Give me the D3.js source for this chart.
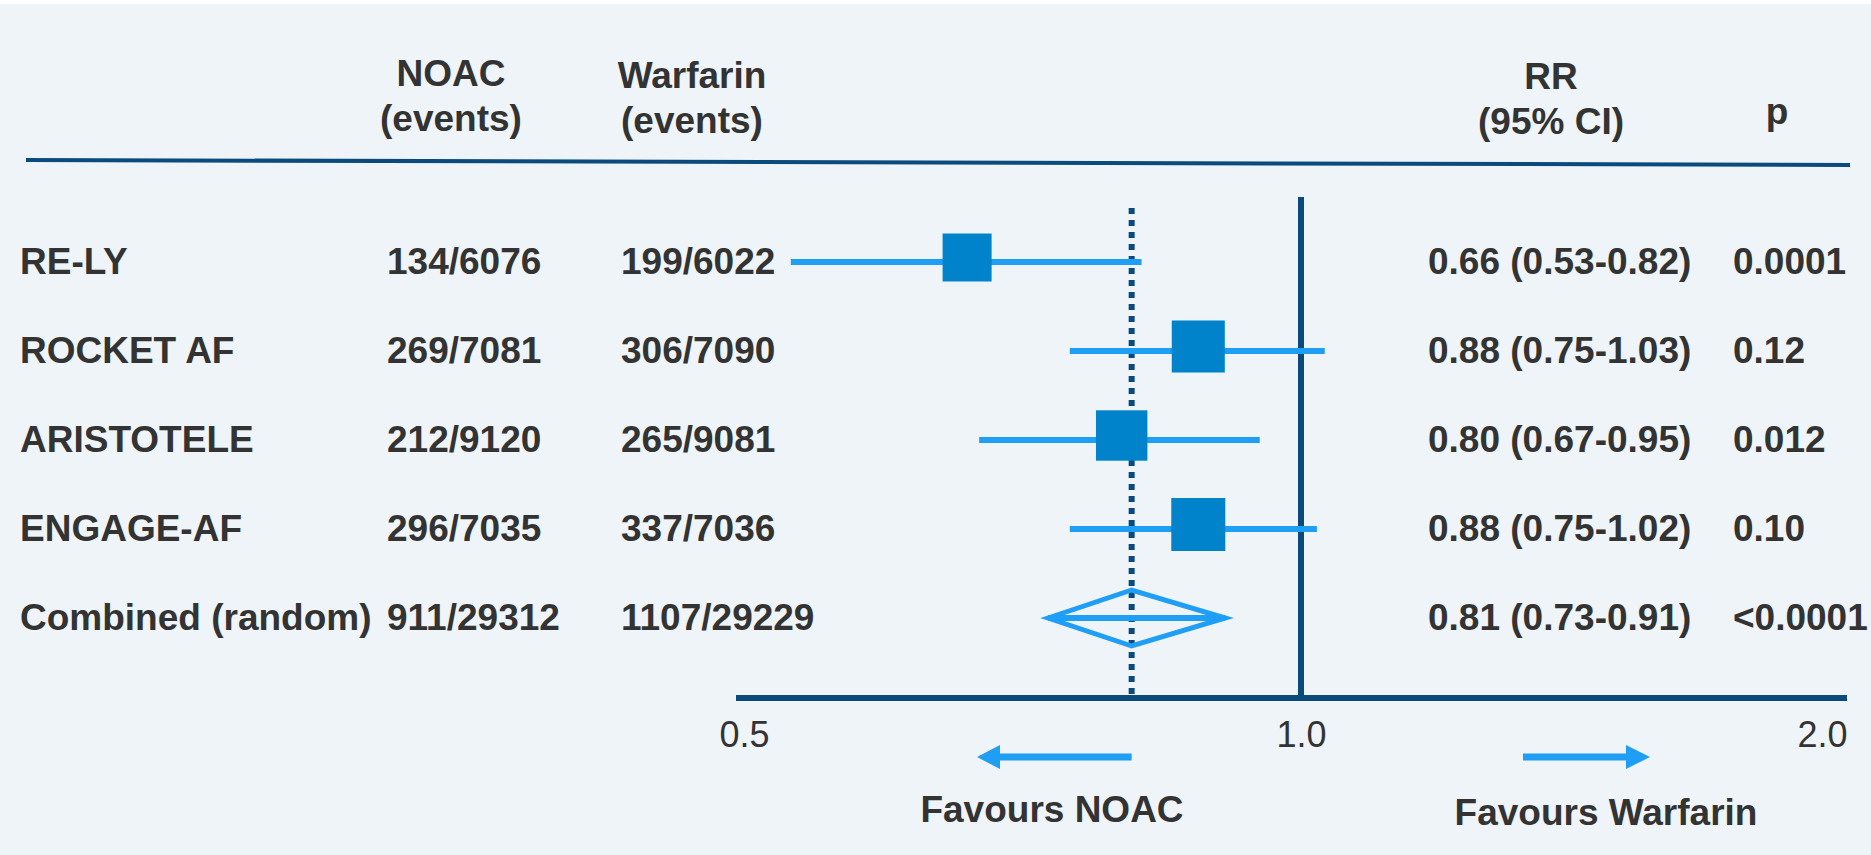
<!DOCTYPE html>
<html>
<head>
<meta charset="utf-8">
<script src="https://cdn.jsdelivr.net/npm/d3@7"></script>
<style>
  html, body { margin: 0; padding: 0; background: #ffffff; }
  svg { display: block; }
  text { font-family: "Liberation Sans", Arial, sans-serif; fill: #333333; }
</style>
</head>
<body>
<script>
// donnees
const studies = ['RE-LY', 'ROCKET AF', 'ARISTOTELE', 'ENGAGE-AF', 'Combined (random)']
const noacEvents = ['134/6076', '269/7081', '212/9120', '296/7035', '911/29312']
const warfarinEvents = ['199/6022', '306/7090', '265/9081', '337/7036', '1107/29229']
const rr = [0.66, 0.88, 0.80, 0.88, 0.81]
const ciLow = [0.53, 0.75, 0.67, 0.75, 0.73]
const ciHigh = [0.82, 1.03, 0.95, 1.02, 0.91]
const pValues = ['0.0001', '0.12', '0.012', '0.10', '<0.0001']
const tickValues = [0.5, 1.0, 2.0]
const tickLabels = ['0.5', '1.0', '2.0']

const W = 1871, H = 855
const navy = '#0a4a7c'
const lightBlue = '#1f9ef5'
const boxBlue = '#0083cb'

let svg = d3.select('body')
    .append('svg')
    .attr('width', W)
    .attr('height', H)

svg.append('rect')
    .attr('x', 0).attr('y', 4)
    .attr('width', W).attr('height', H - 4)
    .attr('fill', '#eef4f7')

// echelles
let x = d3.scaleLog().domain([0.5, 2]).range([744, 1858])
let y = d3.scalePoint().domain(studies).range([261, 617])
const rowY = (d, i) => y(studies[i])

// entetes
let head = svg.append('g').attr('font-weight', 'bold').attr('font-size', 37).attr('text-anchor', 'middle')
head.append('text').attr('x', 451).attr('y', 86).text('NOAC')
head.append('text').attr('x', 451).attr('y', 131).text('(events)')
head.append('text').attr('x', 692).attr('y', 88).text('Warfarin')
head.append('text').attr('x', 692).attr('y', 133).text('(events)')
head.append('text').attr('x', 1551).attr('y', 89).text('RR')
head.append('text').attr('x', 1551).attr('y', 134).text('(95% CI)')
head.append('text').attr('x', 1777).attr('y', 124).text('p')

svg.append('line')
    .attr('x1', 26).attr('y1', 160)
    .attr('x2', 1850).attr('y2', 165)
    .attr('stroke', navy)
    .attr('stroke-width', 4)

// colonnes de texte
let cols = svg.append('g').attr('font-weight', 'bold').attr('font-size', 37)
const columns = [
    { values: studies, x: 20 },
    { values: noacEvents, x: 387 },
    { values: warfarinEvents, x: 621 },
    { values: rr.map((d, i) => `${d3.format('.2f')(d)} (${d3.format('.2f')(ciLow[i])}-${d3.format('.2f')(ciHigh[i])})`), x: 1428 },
    { values: pValues, x: 1733 }
]
columns.forEach(c => {
    cols.selectAll()
        .data(c.values)
        .enter()
        .append('text')
        .attr('x', c.x)
        .attr('y', (d, i) => rowY(d, i) + 13)
        .text(d => d)
})

// lignes de reference
const axisY = 698
svg.append('line')
    .attr('x1', x(1)).attr('x2', x(1))
    .attr('y1', 197).attr('y2', axisY)
    .attr('stroke', navy)
    .attr('stroke-width', 6)

svg.append('line')
    .attr('x1', x(rr[4])).attr('x2', x(rr[4]))
    .attr('y1', 208).attr('y2', axisY)
    .attr('stroke', navy)
    .attr('stroke-width', 6)
    .attr('stroke-dasharray', '6,6')

// axe
let gAxis = svg.append('g')
    .attr('transform', `translate(0,${axisY})`)
    .call(d3.axisBottom(x).tickValues(tickValues).tickFormat((d, i) => tickLabels[i]).tickSize(0).tickPadding(23))
gAxis.select('.domain').remove()
gAxis.selectAll('text')
    .attr('font-size', 36)
    .attr('font-family', '"Liberation Sans", Arial, sans-serif')
    .attr('fill', '#333333')
    .attr('dy', '0.71em')
gAxis.selectAll('.tick').filter(d => d === 2).select('text')
    .attr('text-anchor', 'end')
    .attr('dx', -11)

svg.append('line')
    .attr('x1', x(0.5) - 8).attr('x2', x(2) - 11)
    .attr('y1', axisY).attr('y2', axisY)
    .attr('stroke', navy)
    .attr('stroke-width', 6)

// intervalles de confiance
let marks = svg.append('g')
marks.selectAll()
    .data(rr)
    .enter()
    .append('line')
    .attr('x1', (d, i) => x(ciLow[i]))
    .attr('x2', (d, i) => x(ciHigh[i]))
    .attr('y1', (d, i) => rowY(d, i) + 1)
    .attr('y2', (d, i) => rowY(d, i) + 1)
    .attr('stroke', lightBlue)
    .attr('stroke-width', 6)

// carres (taille selon le nombre total d'evenements)
const totalEvents = studies.map((s, i) => +noacEvents[i].split('/')[0] + +warfarinEvents[i].split('/')[0])
const trials = rr.slice(0, 4)
let size = d3.scaleLinear()
    .domain(d3.extent(totalEvents.slice(0, 4)))
    .range([49, 54])
marks.selectAll()
    .data(trials)
    .enter()
    .append('rect')
    .attr('x', (d, i) => x(d) - size(totalEvents[i]) / 2)
    .attr('y', (d, i) => rowY(d, i) - 3 - size(totalEvents[i]) / 2)
    .attr('width', (d, i) => size(totalEvents[i]))
    .attr('height', (d, i) => size(totalEvents[i]) - 1)
    .attr('fill', boxBlue)

// losange
const ci = 4
const yc = y(studies[ci]) + 1
marks.append('polygon')
    .attr('points', [
        [x(ciLow[ci]), yc], [x(rr[ci]), yc - 28],
        [x(ciHigh[ci]), yc], [x(rr[ci]), yc + 28]
    ].map(p => p.join(',')).join(' '))
    .attr('fill', 'none')
    .attr('stroke', lightBlue)
    .attr('stroke-width', 5)

// fleches
const arrowY = 757
svg.append('line')
    .attr('x1', x(rr[4])).attr('x2', 997)
    .attr('y1', arrowY).attr('y2', arrowY)
    .attr('stroke', lightBlue).attr('stroke-width', 7)
svg.append('path')
    .attr('d', `M977,${arrowY} L1000,${arrowY - 12} L1000,${arrowY + 12} Z`)
    .attr('fill', lightBlue)
svg.append('line')
    .attr('x1', 1523).attr('x2', 1630)
    .attr('y1', arrowY).attr('y2', arrowY)
    .attr('stroke', lightBlue).attr('stroke-width', 7)
svg.append('path')
    .attr('d', `M1650,${arrowY} L1626,${arrowY - 12} L1626,${arrowY + 12} Z`)
    .attr('fill', lightBlue)

let fav = svg.append('g').attr('font-weight', 'bold').attr('font-size', 37).attr('text-anchor', 'middle')
fav.append('text').attr('x', 1052).attr('y', 822).text('Favours NOAC')
fav.append('text').attr('x', 1606).attr('y', 825).text('Favours Warfarin')
</script>
</body>
</html>
